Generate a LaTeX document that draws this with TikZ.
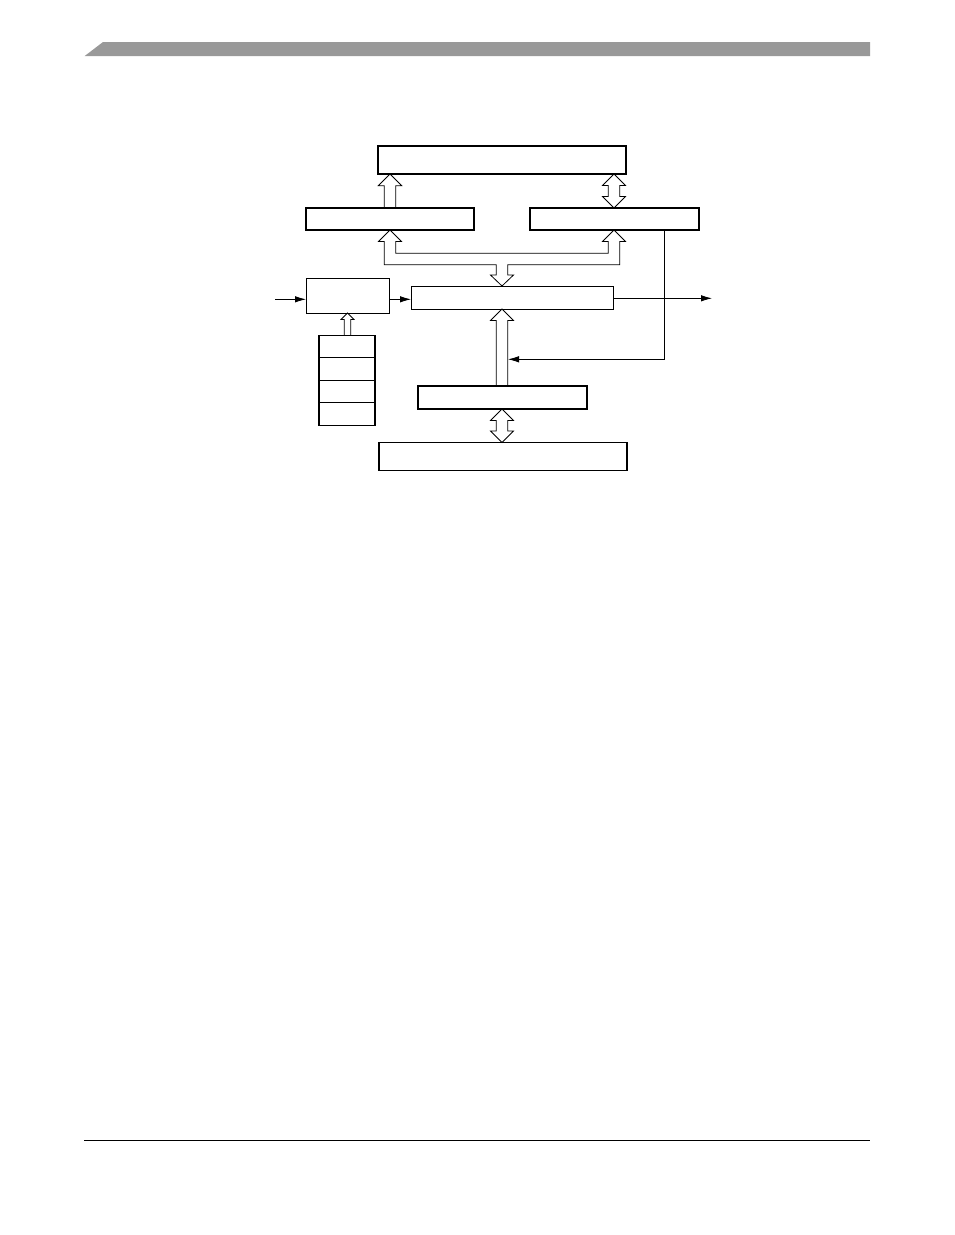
\documentclass[tikz,border=0pt]{standalone}
\usetikzlibrary{shapes}
\usetikzlibrary{arrows.meta}
\usetikzlibrary{positioning}
\usetikzlibrary{calc}
\usetikzlibrary{backgrounds}

%fleche creuse montante
\newcommand{\busfleche}[5]{%
\coordinate (b) at (#1 |- #2);
\coordinate (t) at (#1 |- #3);
\draw[bus] ($(b)+(-#4,0)$) -- ($(t)+(-#4,#5)$) -- ($(t)+(-#5,#5)$) -- (t) -- ($(t)+(#5,#5)$) -- ($(t)+(#4,#5)$) -- ($(b)+(#4,0)$);
}
%fleche creuse double
\newcommand{\busdouble}[3]{%
\coordinate (t) at (#1 |- #2);
\coordinate (b) at (#1 |- #3);
\draw[bus] (t) -- ($(t)+(11.5,11.5)$) -- ($(t)+(5.7,11.5)$) -- ($(b)+(5.7,-11.5)$) -- ($(b)+(11.5,-11.5)$) -- (b) -- ($(b)+(-11.5,-11.5)$) -- ($(b)+(-5.7,-11.5)$) -- ($(t)+(-5.7,11.5)$) -- ($(t)+(-11.5,11.5)$) -- cycle;
}

\begin{document}
\begin{tikzpicture}[x=1pt,y=-1pt]
\tikzstyle{bloc}=[draw,rectangle,line width=1.4pt,inner sep=0pt,outer sep=0pt]
\tikzstyle{fin}=[draw,rectangle,line width=0.9pt,inner sep=0pt,outer sep=0pt]
\tikzstyle{case}=[bloc,minimum width=56pt,minimum height=22.5pt]
\tikzstyle{bus}=[draw=black,fill=white,line width=0.8pt,line join=miter]
%style des fleches
\tikzstyle{suite}=[-{Latex[length=11pt,width=6.5pt]},line width=0.8pt]
\useasboundingbox (0,0) rectangle (954,1235);
%bandeau
\fill[black!40] (84.7,56) -- (103,42) -- (870,42) -- (870,56) -- cycle;
\draw[line width=1pt] (84,1140) -- (870,1140);
%placement des blocs
\node[bloc,minimum width=248pt,minimum height=28pt] (haut) at (502,160) {};
\node[bloc,minimum width=168pt,minimum height=22pt] (gauche) at (390,219) {};
\node[bloc,minimum width=169pt,minimum height=22pt] (droite) at (614.5,219) {};
\node[fin,minimum width=83pt,minimum height=35pt] (horloge) at (347.5,295.5) {};
\node[fin,minimum width=202pt,minimum height=23pt] (centre) at (512,297.5) {};
\node[case] (c1) at (347,346.5) {};
\node[case,below=0pt of c1] (c2) {};
\node[case,below=0pt of c2] (c3) {};
\node[case,below=0pt of c3] (c4) {};
\node[bloc,minimum width=169pt,minimum height=23pt] (interface) at (502.5,397.5) {};
\node[bloc,minimum width=248pt,minimum height=28pt] (bas) at (503,456.5) {};
%coordonnees
\coordinate (xg) at (390,0);
\coordinate (xd) at (614,0);
\coordinate (xc) at (502,0);
\coordinate (xh) at (347.5,0);
\coordinate (entree) at (275,299.3);
\coordinate (sortie) at (712,298.3);
\coordinate (coude) at (664.3,359.3);
\coordinate (retour) at (508,359.3);
%placement des bus
\begin{scope}[on background layer]
\busfleche{xg}{gauche.north}{haut.south}{5.7}{11.7}
\busdouble{xd}{haut.south}{droite.north}
\busfleche{xc}{interface.north}{centre.south}{5.7}{11.5}
\busdouble{xc}{interface.south}{bas.north}
\busfleche{xh}{c1.north}{horloge.south}{3.2}{6.5}
\coordinate (jg) at (xg |- gauche.south);
\coordinate (jd) at (xd |- droite.south);
\coordinate (jc) at (xc |- centre.north);
\draw[bus] (jg) -- ($(jg)+(11.5,11.5)$) -- ($(jg)+(5.7,11.5)$) -- ($(jg)+(5.7,23.3)$)
  -- ($(jd)+(-5.7,23.3)$) -- ($(jd)+(-5.7,11.5)$) -- ($(jd)+(-11.5,11.5)$) -- (jd)
  -- ($(jd)+(11.5,11.5)$) -- ($(jd)+(5.7,11.5)$) -- ($(jd)+(5.7,34.7)$)
  -- ($(jc)+(5.7,-21.3)$) -- ($(jc)+(5.7,-11)$) -- ($(jc)+(11.5,-11)$) -- (jc)
  -- ($(jc)+(-11.5,-11)$) -- ($(jc)+(-5.7,-11)$) -- ($(jc)+(-5.7,-21.3)$)
  -- ($(jg)+(-5.7,34.7)$) -- ($(jg)+(-5.7,11.5)$) -- ($(jg)+(-11.5,11.5)$) -- cycle;
\end{scope}
%placement des fleches
\draw[suite] (entree) -- (entree -| horloge.west);
\draw[suite] (entree -| horloge.east) -- (entree -| centre.west);
\draw[suite] (sortie -| centre.east) -- (sortie);
\draw[suite] (coude |- droite.south) -- (coude) -- (retour);
\end{tikzpicture}
\end{document}
